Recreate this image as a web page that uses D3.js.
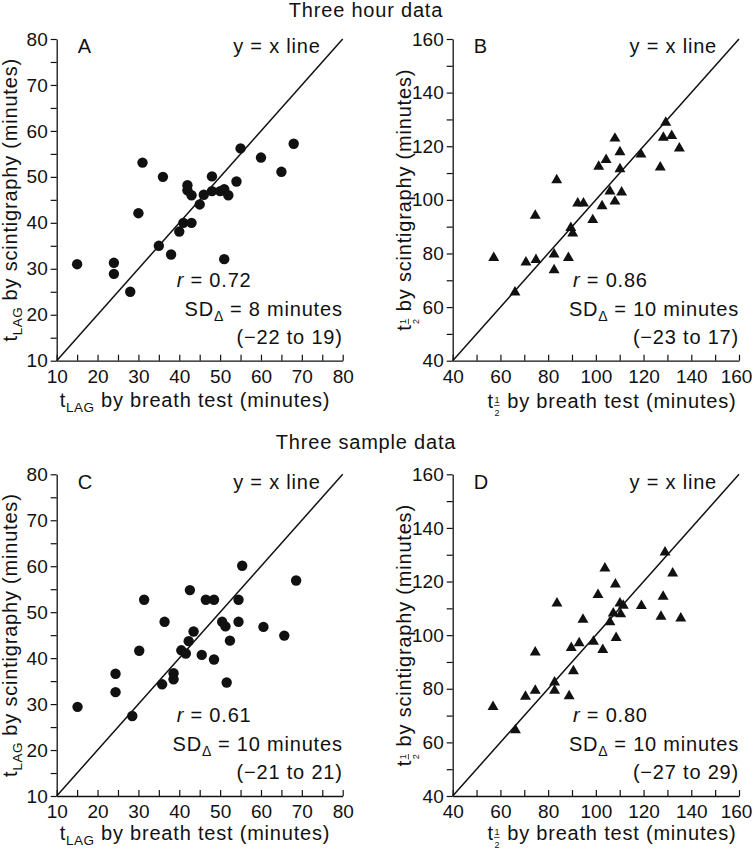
<!DOCTYPE html>
<html><head><meta charset="utf-8">
<script src="https://cdn.jsdelivr.net/npm/d3@7"></script>
<style>
body{margin:0;background:#fff}
svg{display:block}
text{font-family:'Liberation Sans',Arial,sans-serif;fill:#111}
</style>
</head><body>
<svg id="c" width="754" height="853"></svg>
<script>
// ---- data ----
const lagTicks=[10,20,30,40,50,60,70,80];
const lagMinor=[15,25,35,45,55,65,75];
const halfTicks=[40,60,80,100,120,140,160];
const halfMinor=[50,70,90,110,130,150];

const aX=[15,24,24,28,30,31,35,36,38,40,41,43,42,42,43,45,46,48,48,50,51,52,51,54,55,60,65,68];
const aY=[31,31.3,28.9,25,42.1,53.1,35,50,33.1,38.1,40,40,48.2,47.1,46,44,46.1,50.1,46.9,46.9,47.3,46,32.1,49,56.2,54.2,51.1,57.2];

const bX=[57.2,66.1,70.7,74.9,74.6,82.5,82.5,83.6,88.5,89.5,90.3,92.4,94.8,98.7,101.2,102.6,104.3,105.9,108,108,110.1,110.1,110.8,118.9,127,128.3,129.3,131.8,135];
const bY=[78.4,65.5,76.7,77.6,94.1,79.7,73.8,107.4,78.4,89.6,87.5,98.7,98.7,92.5,112.4,97.7,114.9,103.2,122.9,99.4,117.8,111.5,102.8,117,112.1,123.2,128.8,123.9,119.2];

const cX=[15.1,24.4,24.4,28.5,30.2,31.4,35.8,36.4,38.6,38.6,40.5,41.6,42.3,42.6,43.5,45.5,46.5,48.5,48.5,50.5,51.3,51.6,52.4,54.5,54.5,55.4,60.6,65.7,68.6];
const cY=[29.4,36.6,32.6,27.4,41.6,52.7,34.3,47.9,36.7,35.4,41.7,41.0,43.7,54.8,45.8,40.7,52.7,52.7,39.7,47.9,46.9,34.7,43.8,52.7,47.9,60.1,46.8,44.9,56.9];

const dX=[56.9,66.3,70.5,74.6,74.6,82.7,82.7,83.7,88.8,89.7,90.6,93,94.6,99,100.9,102.9,103.8,105.9,107.3,108.2,108.5,110.1,110.4,111.5,119.1,127.3,128.2,129,132.2,135.6];
const dY=[73.3,64.6,77.1,79.3,93.6,82.4,79.3,111.9,77.3,95.3,86.6,97,105.8,97.6,115,94.5,124.9,104.9,108.1,119,99,111.9,107.9,111,110.9,106.9,114.4,130.9,123.1,106.3];

const panelLetters=["A","B","C","D"];
const rValues=["0.72","0.86","0.61","0.80"];
const sdValues=["8","10","10","10"];
const limits=["(\u221222 to 19)","(\u221223 to 17)","(\u221221 to 21)","(\u221227 to 29)"];
const titles=["Three hour data","Three sample data"];

// ---- drawing ----
const svg=d3.select("#c");
const INK="#111";

function rich(parent, parts, x, y, anchor, rot){
  const g=parent.append("g");
  const inner=g.append("g");
  let cx=0;
  parts.forEach(p=>{
    if(p.frac){
      inner.append("text").attr("x",cx+0.6).attr("y",-5).attr("font-size",9).text("1");
      inner.append("text").attr("x",cx+0.6).attr("y",7.5).attr("font-size",9).text("2");
      inner.append("line").attr("x1",cx+0.3).attr("x2",cx+5.8).attr("y1",-2.6).attr("y2",-2.6)
        .attr("stroke",INK).attr("stroke-width",0.8);
      cx+=7; return;
    }
    const t=inner.append("text").attr("x",cx).attr("y",p.dy||0)
      .attr("font-size",p.size||20).attr("letter-spacing",p.ls!==undefined?p.ls:0.8).text(p.t);
    if(p.italic) t.attr("font-style","italic");
    cx+=t.node().getComputedTextLength();
  });
  const off=anchor==="middle"?-cx/2:anchor==="end"?-cx:0;
  inner.attr("transform",`translate(${off},0)`);
  g.attr("transform",`translate(${x},${y})`+(rot?` rotate(${rot})`:""));
  return g;
}

const lagLabel=(rest)=>[{t:"t"},{t:"LAG",size:13.5,dy:5,ls:0.5},{t:"\u00A0"+rest}];
const halfLabel=(rest)=>[{t:"t"},{frac:true},{t:"\u00A0"+rest}];

const panels=[
  {left:56.7,right:342.7,top:39,bottom:360.7,dom:[10,80],maj:lagTicks,min:lagMinor,xs:aX,ys:aY,tri:false,lab:lagLabel,xtc:195,xtb:407,ytx:17},
  {left:452.7,right:739,top:39,bottom:360.7,dom:[40,160],maj:halfTicks,min:halfMinor,xs:bX,ys:bY,tri:true,lab:halfLabel,xtc:612,xtb:408,ytx:411},
  {left:56.7,right:342.7,top:474.3,bottom:796,dom:[10,80],maj:lagTicks,min:lagMinor,xs:cX,ys:cY,tri:false,lab:lagLabel,xtc:195,xtb:840,ytx:17},
  {left:452.7,right:739,top:474.3,bottom:796,dom:[40,160],maj:halfTicks,min:halfMinor,xs:dX,ys:dY,tri:true,lab:halfLabel,xtc:612,xtb:840,ytx:411}
];

panels.forEach((P,i)=>{
  const g=svg.append("g");
  const x=d3.scaleLinear().domain(P.dom).range([P.left,P.right]);
  const y=d3.scaleLinear().domain(P.dom).range([P.bottom,P.top]);
  const allT=P.maj.concat(P.min).sort((a,b)=>a-b);
  const isMaj=d=>P.maj.includes(d);

  // x axis: ticks inward
  const xa=g.append("g").attr("transform",`translate(0,${P.bottom})`)
    .call(d3.axisBottom(x).tickValues(allT).tickSizeInner(-6).tickSizeOuter(0).tickPadding(9)
      .tickFormat(d=>isMaj(d)?d:""));
  // y axis: ticks outward
  const ya=g.append("g").attr("transform",`translate(${P.left},0)`)
    .call(d3.axisLeft(y).tickValues(allT).tickSizeInner(6).tickSizeOuter(0).tickPadding(3)
      .tickFormat(d=>isMaj(d)?d:""));
  [xa,ya].forEach(a=>{
    a.selectAll("path.domain").attr("stroke",INK).attr("stroke-width",1.3);
    a.selectAll(".tick line").attr("stroke",INK).attr("stroke-width",1.2);
    a.selectAll(".tick text").attr("font-size",19).attr("fill",INK)
      .attr("font-family","'Liberation Sans',Arial,sans-serif");
  });
  // keep the last x tick label inside the page
  xa.selectAll(".tick text").filter(d=>d===P.dom[1] && P.right>700).attr("dx",-3);

  // y = x line
  g.append("line").attr("x1",x(P.dom[0])).attr("y1",y(P.dom[0]))
    .attr("x2",x(P.dom[1])).attr("y2",y(P.dom[1]))
    .attr("stroke",INK).attr("stroke-width",1.5);

  // points
  const pts=P.xs.map((v,k)=>[v,P.ys[k]]);
  if(P.tri){
    g.selectAll("path.pt").data(pts).join("path").attr("class","pt")
      .attr("d",d3.symbol(d3.symbolTriangle,52)())
      .attr("transform",d=>`translate(${x(d[0])},${y(d[1])})`).attr("fill",INK);
  } else {
    g.selectAll("circle.pt").data(pts).join("circle").attr("class","pt")
      .attr("cx",d=>x(d[0])).attr("cy",d=>y(d[1])).attr("r",5.2).attr("fill",INK);
  }

  // annotations
  rich(g,[{t:panelLetters[i]}],P.left+21,P.top+14.3,"start");
  rich(g,[{t:"y = x line"}],P.right-22,P.top+14.3,"end");
  rich(g,[{t:"r",italic:true},{t:"\u00A0= "+rValues[i]}],P.right-166,P.top+248,"start");
  rich(g,[{t:"SD"},{t:"\u0394",size:14,dy:5,ls:0.3},{t:"\u00A0= "+sdValues[i]+" minutes"}],P.right,P.top+277,"end");
  rich(g,[{t:limits[i]}],P.right,P.top+305,"end");

  // axis titles
  rich(g,P.lab("by breath test (minutes)"),P.xtc,P.xtb,"middle");
  rich(g,P.lab("by scintigraphy (minutes)"),P.ytx,(P.top+P.bottom)/2,"middle",-90);
});

rich(svg,[{t:titles[0]}],366,17,"middle");
rich(svg,[{t:titles[1]}],366,449,"middle");
</script>
</body></html>
